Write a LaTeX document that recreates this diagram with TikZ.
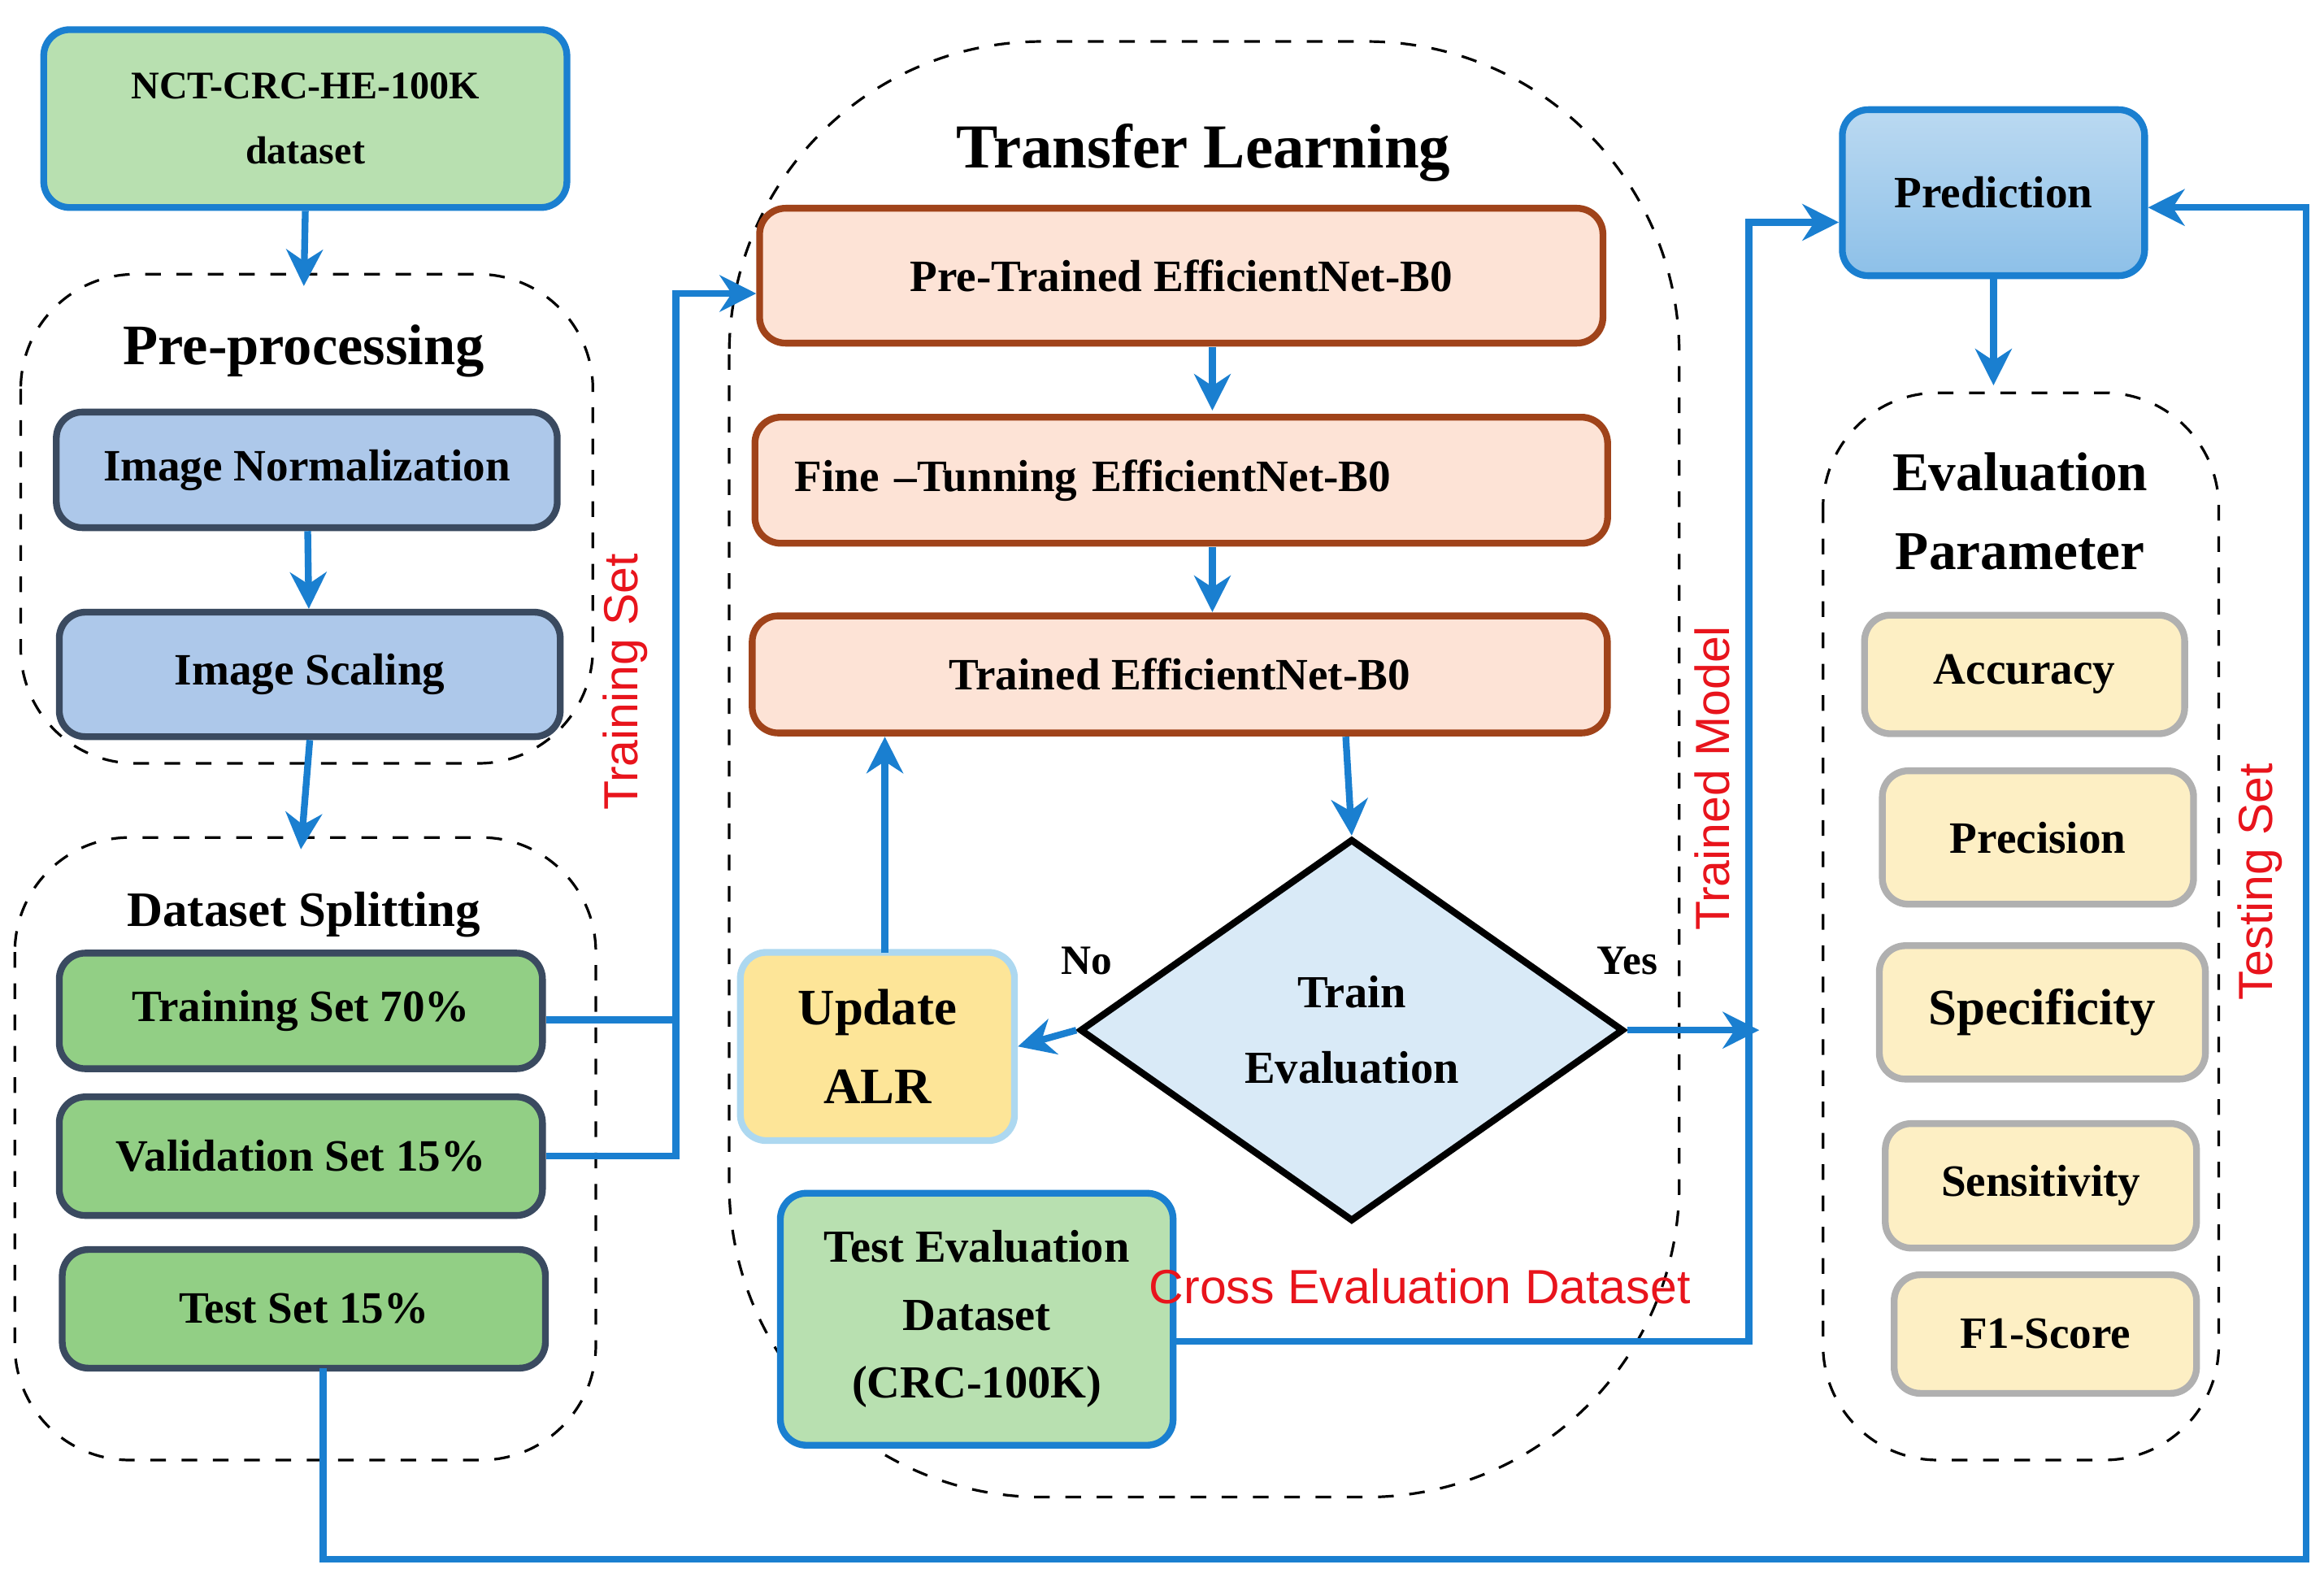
\documentclass[tikz,border=0pt]{standalone}
\usepackage{fontspec}
\setmainfont{Liberation Serif}
\newfontfamily\sansf{Liberation Sans}
\usetikzlibrary{shapes.geometric,arrows.meta,calc}
\definecolor{arr}{HTML}{1A7FD0}
\definecolor{lgreen}{HTML}{B8E0B0}
\definecolor{dgreen}{HTML}{92CF85}
\definecolor{lblue}{HTML}{ADC8EA}
\definecolor{peach}{HTML}{FDE3D6}
\definecolor{brownb}{HTML}{A0431A}
\definecolor{yel}{HTML}{FDE598}
\definecolor{cream}{HTML}{FDEFC4}
\definecolor{dia}{HTML}{D9EAF7}
\definecolor{pred}{HTML}{8DC0E8}
\definecolor{redl}{HTML}{E8141C}
\begin{document}
\begin{tikzpicture}[x=0.01cm,y=-0.01cm,
  box/.style={draw,rounded corners=5pt,line width=1.3pt,font=\fontsize{8.6}{10.5}\selectfont\bfseries,align=center,inner sep=0pt},
  grp/.style={draw,dashed,rounded corners=22pt,line width=0.5pt},
  ttl/.style={font=\fontsize{11}{13}\selectfont\bfseries,align=center},
  ar/.style={draw=arr,line width=1.3pt,-{Stealth[length=7pt,width=7pt]}},
  ln/.style={draw=arr,line width=1.3pt},
  red/.style={text=redl,font=\sansf\fontsize{9.2}{11}\selectfont},
  mk/.style 2 args={minimum width=#1*0.01cm,minimum height=#2*0.01cm}]
\useasboundingbox (0,0) rectangle (1568,1067);
% groups
\draw[grp] (14,185) rectangle (400,515);
\draw[grp] (10,565) rectangle (402,985);
\draw[grp,rounded corners=60pt] (492,28) rectangle (1133,1010);
\draw[grp] (1230,265) rectangle (1497,985);
\node[ttl] (tpre) at (205,237) {Pre-processing};
\node[ttl,font=\fontsize{9.5}{11}\selectfont\bfseries] (tds) at (205,617) {Dataset Splitting};
\node[ttl,font=\fontsize{12}{14}\selectfont\bfseries] (ttl) at (812,103) {Transfer Learning};
\node[ttl,font=\fontsize{10.5}{15}\selectfont\bfseries] (tev) at (1363,345) {Evaluation\\Parameter};
% left
\node[box,draw=arr,fill=lgreen,mk={353}{120},font=\fontsize{7.5}{12.5}\selectfont\bfseries] (ds) at (206,80) {NCT-CRC-HE-100K\\dataset};
\node[box,draw={rgb,255:red,58;green,74;blue,96},fill=lblue,mk={338}{78}] (norm) at (207,317) {Image Normalization};
\node[box,draw={rgb,255:red,58;green,74;blue,96},fill=lblue,mk={338}{84}] (scal) at (209,455) {Image Scaling};
\node[box,draw={rgb,255:red,58;green,74;blue,96},fill=dgreen,mk={326}{78}] (tr) at (203,682) {Training Set 70\%};
\node[box,draw={rgb,255:red,58;green,74;blue,96},fill=dgreen,mk={326}{80}] (va) at (203,780) {Validation Set 15\%};
\node[box,draw={rgb,255:red,58;green,74;blue,96},fill=dgreen,mk={326}{80}] (te) at (205,883) {Test Set 15\%};
\draw[ar] (ds.south) -- (205,193);
\draw[ar] (norm) -- (scal);
\draw[ar] (scal.south) -- (203,573);
% transfer learning
\node[box,draw=brownb,fill=peach,mk={569}{91}] (pt) at (797,186) {Pre-Trained EfficientNet-B0};
\node[box,draw=brownb,fill=peach,minimum height=0.85cm,text width=5.21cm,inner xsep=0.27cm,align=left] (ft) at (797,324) {Fine –Tunning EfficientNet-B0};
\node[box,draw=brownb,fill=peach,mk={577}{79}] (tn) at (796,455) {Trained EfficientNet-B0};
\node[draw,line width=1.3pt,fill=dia,diamond,aspect=1.42,mk={367}{258},inner sep=0pt,align=center,font=\fontsize{8.8}{14.5}\selectfont\bfseries] (dm) at (912,695) {Train\\Evaluation};
\node[box,draw={rgb,255:red,173;green,216;blue,240},fill=yel,mk={185}{127},font=\fontsize{9.8}{15}\selectfont\bfseries] (up) at (592,706) {Update\\ALR};
\node[box,draw=arr,fill=lgreen,mk={265}{170},font=\fontsize{8.8}{13}\selectfont\bfseries] (ted) at (659,890) {Test Evaluation\\Dataset\\(CRC-100K)};
\draw[ar] (818,234) -- (818,277);
\draw[ar] (818,369) -- (818,413);
\draw[ar] (908,497) -- (dm.north);
\draw[ar] (dm.west) -- (up.east);
\draw[ar] (597,643) -- (597,497);
\draw[ar] (dm.east) -- (1187,695);
\node[font=\fontsize{8}{10}\selectfont\bfseries] (no) at (733,648) {No};
\node[font=\fontsize{8}{10}\selectfont\bfseries] (yes) at (1098,648) {Yes};
\node[red] (cross) at (958,868) {Cross Evaluation Dataset};
% right
\node[box,draw=arr,top color=pred!60,bottom color=pred,mk={204}{112}] (pr) at (1345,130) {Prediction};
\node[box,draw={rgb,255:red,176;green,176;blue,176},fill=cream,mk={216}{80}] (acc) at (1366,455) {Accuracy};
\node[box,draw={rgb,255:red,176;green,176;blue,176},fill=cream,mk={210}{90}] (prc) at (1375,565) {Precision};
\node[box,draw={rgb,255:red,176;green,176;blue,176},fill=cream,mk={220}{90},font=\fontsize{9.8}{12}\selectfont\bfseries] (spc) at (1378,683) {Specificity};
\node[box,draw={rgb,255:red,176;green,176;blue,176},fill=cream,mk={210}{84}] (sen) at (1377,800) {Sensitivity};
\node[box,draw={rgb,255:red,176;green,176;blue,176},fill=cream,mk={204}{80}] (f1) at (1380,900) {F1-Score};
\draw[ar] (pr.south) -- (1345,260);
% long connectors
\coordinate (j1) at (456,688);
\draw[ln] (tr.east |- j1) -- (j1);
\draw[ln] (va.east) -- (456,780) -- (j1);
\draw[ar] (j1) -- (456,198) -- (pt.west |- 0,198);
\draw[ar] (ted.east |- 0,905) -- (1180,905) -- (1180,150) -- (pr.west |- 0,150);
\draw[ar] (218,923) -- (218,1052) -- (1556,1052) -- (1556,140) -- (pr.east |- 0,140);
\node[red,rotate=90] (lts) at (422,460) {Training Set};
\node[red,rotate=90] (ltm) at (1155,525) {Trained Model};
\node[red,rotate=90] (lte) at (1525,595) {Testing Set};
\end{tikzpicture}
\end{document}
